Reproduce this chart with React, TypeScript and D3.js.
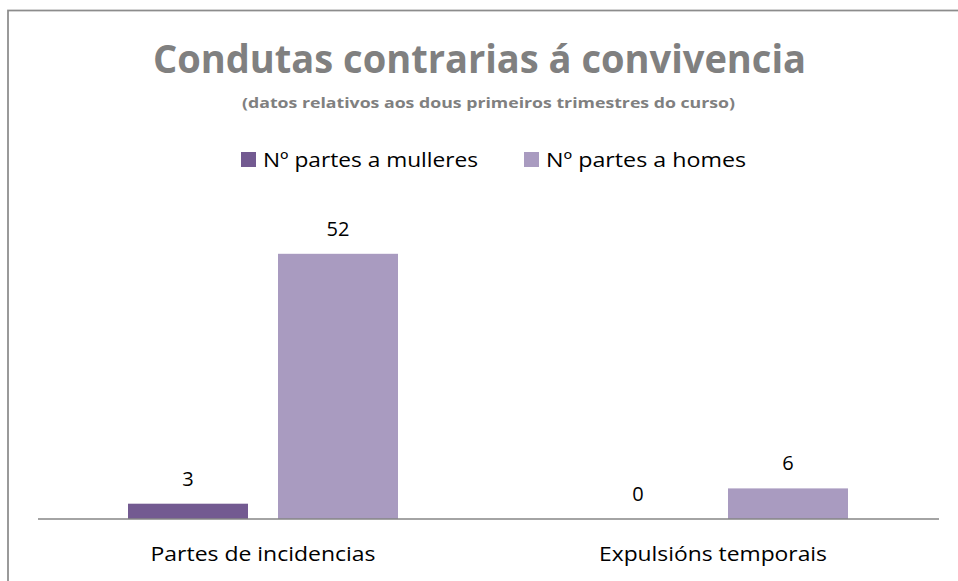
import React from "react";
import * as d3 from "d3";

const categories = ["Partes de incidencias", "Expulsións temporais"];
const seriesNames = ["Nº partes a mulleres", "Nº partes a homes"];
const mulleres = [3, 0];
const homes = [52, 6];
const seriesColors = ["#735a91", "#a99bc0"];

const W = 958;
const H = 581;
const FONT = "'Open Sans', 'Noto Sans', sans-serif";

const App = () => {
  const margin = { left: 38, right: 20, top: 213, bottom: 62 };
  const plotRight = W - margin.right;
  const plotBottom = H - margin.bottom;

  const x = d3
    .scaleBand()
    .domain(categories)
    .range([margin.left, plotRight])
    .padding(0);

  const xInner = d3
    .scaleBand()
    .domain(seriesNames)
    .range([0, 270])
    .paddingInner(0.2)
    .paddingOuter(0);

  const y = d3.scaleLinear().domain([0, 60]).range([plotBottom, margin.top]);

  const groupOffset = (x.bandwidth() - 270) / 2;
  const values = [mulleres, homes];

  const legendItems = [
    { x: 241, textLen: 215 },
    { x: 524, textLen: 200 },
  ];
  const catTextLen = [225, 228];

  return (
    <svg
      width={W}
      height={H}
      style={{ position: "absolute", left: 0, top: 0, background: "#fff" }}
    >
      <rect
        x={8}
        y={10.5}
        width={W + 20}
        height={H + 20}
        fill="none"
        stroke="#8c8c8c"
        strokeWidth={1.75}
      />

      <text
        x={479.5}
        y={73}
        textAnchor="middle"
        fontFamily={FONT}
        fontWeight="bold"
        fontSize={39}
        fill="#808080"
        textLength={653}
        lengthAdjust="spacingAndGlyphs"
      >
        Condutas contrarias á convivencia
      </text>
      <text
        x={488.5}
        y={108}
        textAnchor="middle"
        fontFamily={FONT}
        fontWeight="bold"
        fontSize={14}
        fill="#808080"
        textLength={493}
        lengthAdjust="spacingAndGlyphs"
      >
        (datos relativos aos dous primeiros trimestres do curso)
      </text>

      {seriesNames.map((s, i) => (
        <g key={s}>
          <rect
            x={legendItems[i].x}
            y={152}
            width={15}
            height={15}
            fill={seriesColors[i]}
          />
          <text
            x={legendItems[i].x + 22}
            y={167}
            fontFamily={FONT}
            fontSize={20}
            fill="#000"
            textLength={legendItems[i].textLen}
            lengthAdjust="spacingAndGlyphs"
          >
            {s}
          </text>
        </g>
      ))}

      {categories.map((c, ci) => (
        <g key={c} transform={`translate(${(x(c) || 0) + groupOffset},0)`}>
          {seriesNames.map((s, si) => {
            const v = values[si][ci];
            const bx = xInner(s) || 0;
            return (
              <g key={s}>
                <rect
                  x={bx}
                  y={y(v)}
                  width={xInner.bandwidth()}
                  height={plotBottom - y(v)}
                  fill={seriesColors[si]}
                />
                <text
                  x={bx + xInner.bandwidth() / 2}
                  y={y(v) - 18}
                  textAnchor="middle"
                  fontFamily={FONT}
                  fontSize={20}
                  fill="#000"
                >
                  {v}
                </text>
              </g>
            );
          })}
        </g>
      ))}

      <line
        x1={margin.left}
        x2={plotRight + 1}
        y1={plotBottom}
        y2={plotBottom}
        stroke="#868686"
        strokeWidth={1.5}
      />

      {categories.map((c, ci) => (
        <text
          key={c}
          x={(x(c) || 0) + x.bandwidth() / 2}
          y={561}
          textAnchor="middle"
          fontFamily={FONT}
          fontSize={20}
          fill="#000"
          textLength={catTextLen[ci]}
          lengthAdjust="spacingAndGlyphs"
        >
          {c}
        </text>
      ))}
    </svg>
  );
};

export default App;
